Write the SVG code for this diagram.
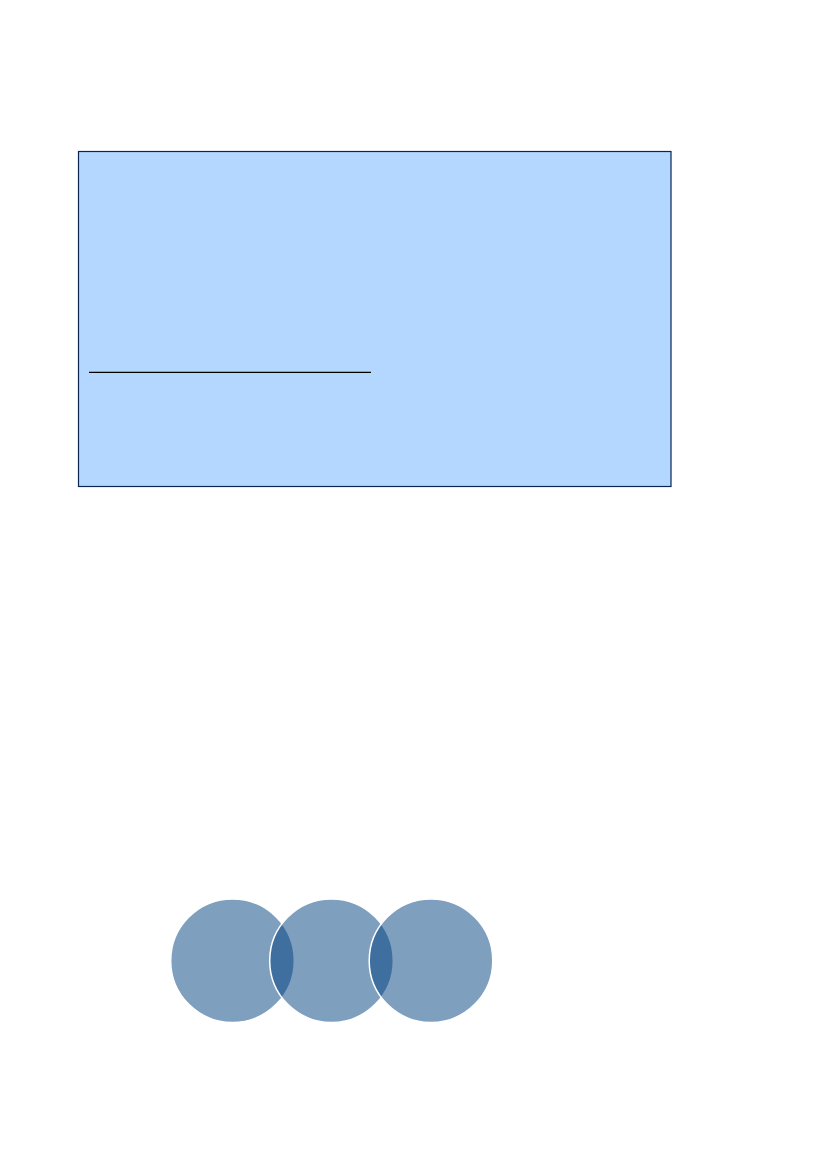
<svg xmlns="http://www.w3.org/2000/svg" width="827" height="1169" viewBox="0 0 827 1169">
<style>
.box{fill:#b3d7ff;stroke:#0a2550;stroke-width:1.2}
.rule{stroke:#000;stroke-width:1.3}
.c{fill:#003f7f;fill-opacity:0.5;stroke:#fff;stroke-width:1.5}
</style>
<rect width="827" height="1169" fill="#fff"/>
<g id="box">
<rect class="box" x="78.5" y="151.5" width="592.5" height="335"/>
<line class="rule" x1="89" y1="372.3" x2="371" y2="372.3"/>
</g>
<g id="circle1"><circle class="c" cx="232.5" cy="960.7" r="61.8"/></g>
<g id="circle2"><circle class="c" cx="331.5" cy="960.7" r="61.8"/></g>
<g id="circle3"><circle class="c" cx="431" cy="960.7" r="61.8"/></g>
<g id="connectors"/>
</svg>
